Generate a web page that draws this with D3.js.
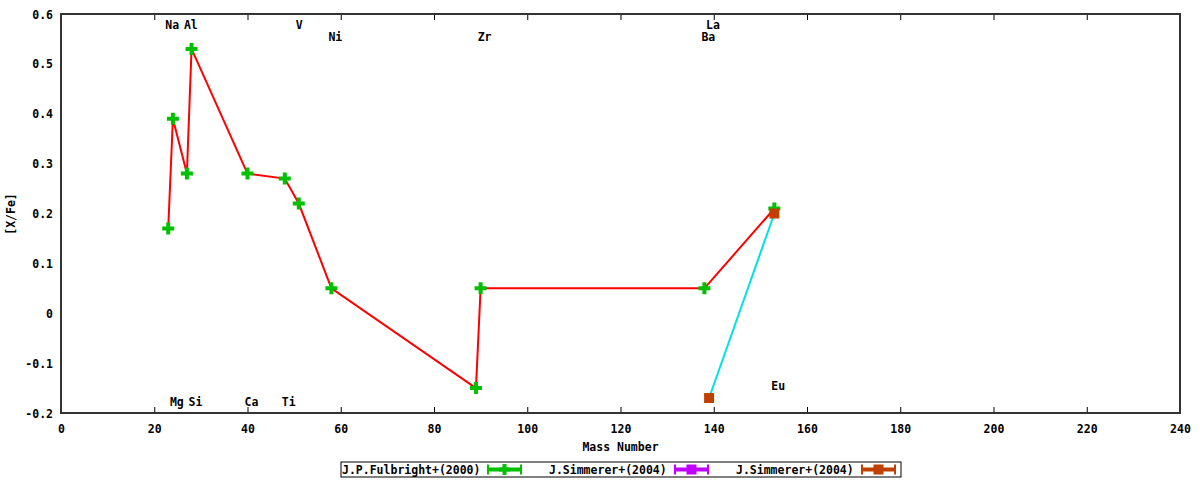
<!DOCTYPE html>
<html><head><meta charset="utf-8">
<script src="https://cdn.jsdelivr.net/npm/d3@7"></script>
<style>
body{margin:0;background:#fff;}
text{font-family:"DejaVu Sans Mono","Liberation Mono",monospace;font-weight:bold;font-size:11.5px;fill:#000;}
</style></head><body>
<svg id="c" width="1200" height="480"></svg>
<script>
// Data
const fulbrightMass = [23, 24, 27, 28, 40, 48, 51, 58, 89, 90, 138, 153];
const fulbrightVal  = [0.17, 0.39, 0.28, 0.53, 0.28, 0.27, 0.22, 0.05, -0.15, 0.05, 0.05, 0.21];
const simmerer1Mass = [];
const simmerer1Val  = [];
const simmerer2Mass = [139, 153];
const simmerer2Val  = [-0.17, 0.20];
const elementNames  = ["Na", "Al", "V", "Ni", "Zr", "La", "Ba", "Mg", "Si", "Ca", "Ti", "Eu"];
const elementMass   = [23, 27, 51, 58, 90, 139, 138, 24, 28, 40, 48, 153];
const elementLabelY = [0.577, 0.577, 0.577, 0.553, 0.553, 0.577, 0.553, -0.178, -0.178, -0.178, -0.178, -0.146];
const xTicks = [0,20,40,60,80,100,120,140,160,180,200,220,240];
const yTicks = [-0.2,-0.1,0,0.1,0.2,0.3,0.4,0.5,0.6];
const legendNames = ["J.P.Fulbright+(2000)", "J.Simmerer+(2004)", "J.Simmerer+(2004)"];
const legendColors = ["#00c000", "#c000ff", "#c04000"];

const svg = d3.select("#c");
const L = 61, R = 1180, T = 14, B = 413;
const x = d3.scaleLinear().domain([0,240]).range([L,R]);
const y = d3.scaleLinear().domain([-0.2,0.6]).range([B,T]);

// Axes
const gx = svg.append("g").attr("transform",`translate(0,${B})`)
  .call(d3.axisBottom(x).tickValues(xTicks).tickSizeInner(-6).tickSizeOuter(0).tickPadding(12).tickFormat(d3.format("d")));
const gxt = svg.append("g").attr("transform",`translate(0,${T})`)
  .call(d3.axisTop(x).tickValues(xTicks).tickSizeInner(-6).tickSizeOuter(0).tickFormat(""));
const gy = svg.append("g").attr("transform",`translate(${L},0)`)
  .call(d3.axisLeft(y).tickValues(yTicks).tickSizeInner(0).tickSizeOuter(0).tickPadding(8)
    .tickFormat(d => d===0 ? "0" : d3.format(".1f")(d).replace("−","-")));
[gx,gxt,gy].forEach(g=>{g.select(".domain").remove(); g.selectAll("line").attr("stroke","#000").attr("stroke-width",1);
  g.selectAll("text").attr("font-family",'"DejaVu Sans Mono",monospace').attr("font-weight","bold").attr("font-size","11.5px").attr("fill","#000");});
gx.selectAll("text").attr("dy","0.71em");
gy.selectAll("text").attr("dy","0.35em");
// frame
svg.append("rect").attr("x",L).attr("y",T).attr("width",R-L).attr("height",B-T)
  .attr("fill","none").attr("stroke","#333").attr("stroke-width",2);

svg.append("text").attr("x",(L+R)/2).attr("y",451).attr("text-anchor","middle").text("Mass Number");
svg.append("text").attr("transform","translate(15,214) rotate(-90)").attr("text-anchor","middle").text("[X/Fe]");

// element labels
svg.append("g").selectAll("text").data(elementNames).join("text")
  .attr("x",(d,i)=>x(elementMass[i])-3).attr("y",(d,i)=>y(elementLabelY[i])).attr("dy","0.35em").text(d=>d);

const line = d3.line().x(d=>x(d[0])).y(d=>y(d[1]));
const f = fulbrightMass.map((m,i)=>[m,fulbrightVal[i]]);
const s1 = simmerer1Mass.map((m,i)=>[m,simmerer1Val[i]]);
const s2 = simmerer2Mass.map((m,i)=>[m,simmerer2Val[i]]);

svg.append("path").datum(f).attr("d",line).attr("fill","none").attr("stroke","#ff0000").attr("stroke-width",2);
svg.append("path").datum(s2).attr("d",line).attr("fill","none").attr("stroke","#00e0e8").attr("stroke-width",2);

function cross(g, pts, color){
  g.selectAll(null).data(pts).join("path")
   .attr("d",d=>{const cx=x(d[0]),cy=y(d[1]);return `M${cx-6},${cy}H${cx+6}M${cx},${cy-6}V${cy+6}`;})
   .attr("stroke",color).attr("stroke-width",4).attr("fill","none");
}
function square(g, pts, color){
  g.selectAll(null).data(pts).join("rect")
   .attr("x",d=>x(d[0])-5).attr("y",d=>y(d[1])-5).attr("width",10).attr("height",10).attr("fill",color);
}
cross(svg.append("g"), f, legendColors[0]);
square(svg.append("g"), s1, legendColors[1]);
square(svg.append("g"), s2, legendColors[2]);

// legend
const lg = svg.append("g");
lg.append("rect").attr("x",341).attr("y",462).attr("width",560).attr("height",15).attr("fill","#fff").attr("stroke","#000").attr("stroke-width",1);
const lx = [342, 549, 736];
const sx = [487, 674, 861];
const ly = 469.5;
legendNames.forEach((n,i)=>{
  lg.append("text").attr("x",lx[i]).attr("y",ly).attr("dy","0.35em").text(n);
  const c = legendColors[i];
  lg.append("line").attr("x1",sx[i]).attr("x2",sx[i]+35).attr("y1",ly).attr("y2",ly).attr("stroke",c).attr("stroke-width",4);
  lg.append("line").attr("x1",sx[i]+1).attr("x2",sx[i]+1).attr("y1",ly-5).attr("y2",ly+5).attr("stroke",c).attr("stroke-width",2);
  lg.append("line").attr("x1",sx[i]+34).attr("x2",sx[i]+34).attr("y1",ly-5).attr("y2",ly+5).attr("stroke",c).attr("stroke-width",2);
  if(i===0){
    lg.append("path").attr("d",`M${sx[i]+12},${ly}H${sx[i]+23}M${sx[i]+17.5},${ly-5.5}V${ly+5.5}`).attr("stroke",c).attr("stroke-width",4);
  } else {
    lg.append("rect").attr("x",sx[i]+12.5).attr("y",ly-5).attr("width",10).attr("height",10).attr("fill",c);
  }
});
</script></body></html>
